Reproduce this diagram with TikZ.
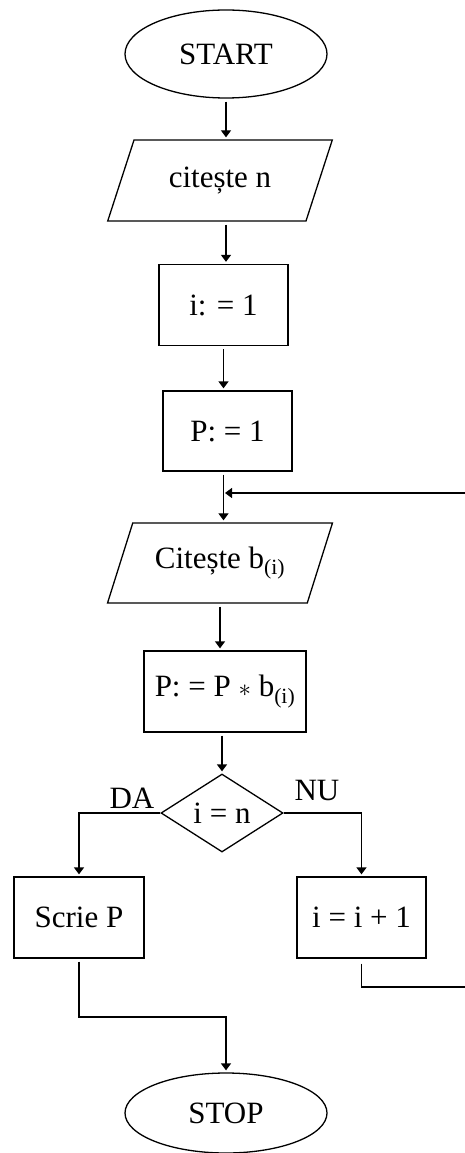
\documentclass[tikz,border=0pt]{standalone}
\usepackage{fontspec}
\setmainfont{Liberation Serif}
\usetikzlibrary{shapes.geometric,arrows.meta}
\begin{document}
\begin{tikzpicture}[x=1pt,y=-1pt,
  every node/.style={font=\fontsize{31}{35}\selectfont, inner sep=0pt},
  base/.style={draw, line width=1.3pt},
  term/.style={base, ellipse, minimum width=202pt, minimum height=88pt},
  io/.style={base, trapezium, trapezium left angle=60, trapezium right angle=120,
             trapezium stretches=true, minimum width=225pt, minimum height=81pt},
  proc/.style={base, rectangle, minimum height=81pt},
  decision/.style={base, diamond, minimum width=122pt, minimum height=78pt, aspect=1.5},
  arr/.style={line width=1.3pt, -{Triangle[length=7pt,width=10pt]}},
  gap/.style={shorten <=3pt, shorten >=2pt}
]
\useasboundingbox (0,0) rectangle (465,1153);
\clip (0,0) rectangle (465,1153);

\node[term] (start) at (226,54) {START};
\node[io] (cn) at (220,180.5) {citește n};
\node[proc, minimum width=129pt] (i1) at (223.5,305) {i: = 1};
\node[proc, minimum width=129pt, minimum height=80pt] (p1) at (227.5,431) {P: = 1};
\node[io, minimum height=80pt] (cb) at (220,563) {Citește b\textsubscript{(i)}};
\node[proc, minimum width=162pt] (pb) at (225,691.5) {P: = P $\ast$ b\textsubscript{(i)}};
\node[decision] (d) at (222,813) {i = n};
\node[proc, minimum width=130pt] (scrie) at (79,917.5) {Scrie P};
\node[proc, minimum width=129pt] (inc) at (361.5,917.5) {i = i + 1};
\node[term, minimum height=80pt] (stop) at (226,1113) {STOP};
\node (da) at (132,798) {DA};
\node (nu) at (317,790) {NU};

\coordinate (m) at (150,1017);
\coordinate (r1) at (470,987);
\coordinate (r2) at (470,493);

\draw[arr,gap] (start.south) -- (start.south |- cn.north);
\draw[arr,gap] (cn.south -| start) -- (start |- i1.north);
\draw[arr,gap] (i1.south) -- (i1.south |- p1.north);
\draw[arr,gap] (p1.south -| i1) -- (i1 |- cb.north);
\draw[arr,gap] (cb.south) -- (cb.south |- pb.north);
\draw[arr,gap] (pb.south -| d) -- (d.north);
\draw[arr, shorten >=2pt] (d.west) -| (scrie.north);
\draw[arr, shorten >=2pt] (d.east) -| (inc.north);
\draw[arr,gap] (scrie.south) |- (m) -| (stop.north);
\draw[arr, shorten <=5pt, shorten >=1.5pt] (inc.south) |- (r1) -- (r2) -- (i1 |- r2);
\end{tikzpicture}
\end{document}
